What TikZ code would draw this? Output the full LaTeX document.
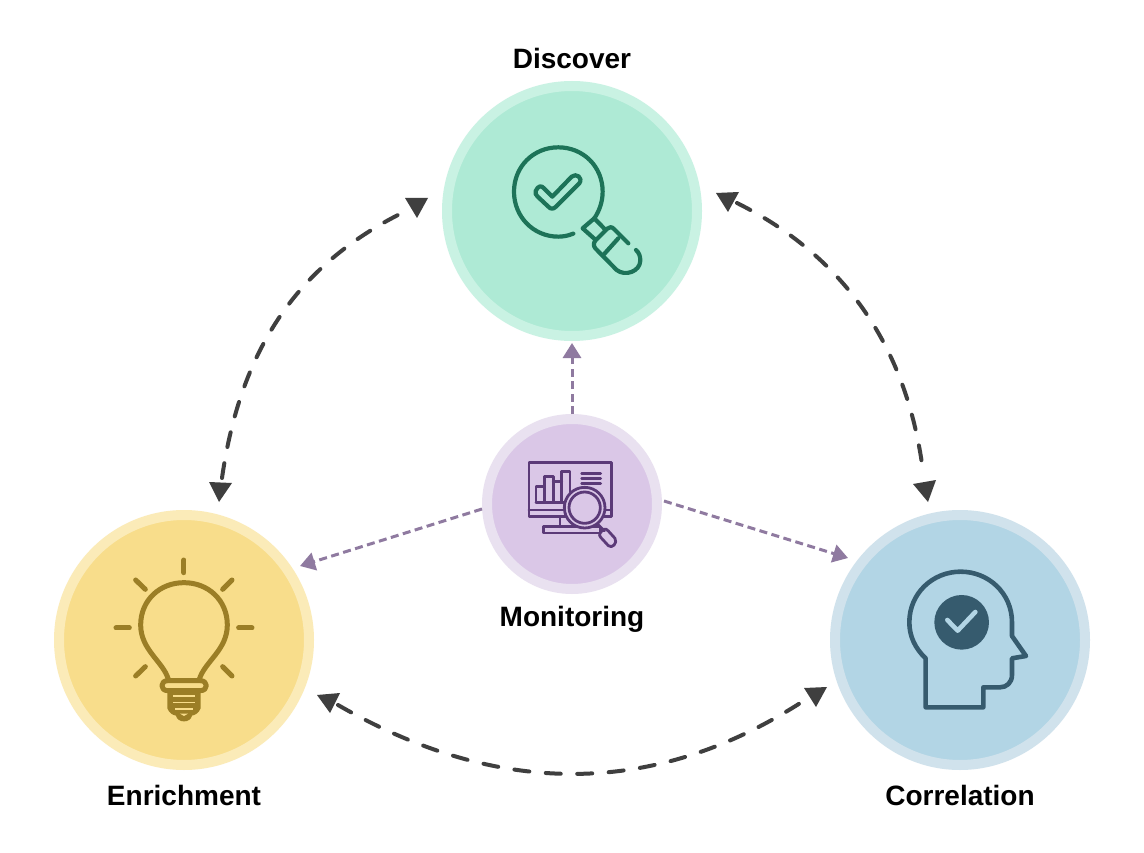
\documentclass[tikz,border=0pt]{standalone}
\usepackage{fontspec}
\setmainfont{Liberation Sans}
\usetikzlibrary{arrows.meta}
\definecolor{dO}{HTML}{C9F2E3}\definecolor{dI}{HTML}{AEEAD5}\definecolor{dK}{HTML}{1D7358}
\definecolor{mO}{HTML}{E9E1F0}\definecolor{mI}{HTML}{DAC7E7}\definecolor{mK}{HTML}{5B3A78}
\definecolor{eO}{HTML}{FBEBB8}\definecolor{eI}{HTML}{F8DD8B}\definecolor{eK}{HTML}{9B7E26}
\definecolor{cO}{HTML}{D0E2EC}\definecolor{cI}{HTML}{B2D5E5}\definecolor{cK}{HTML}{365B6E}
\definecolor{darkarrow}{HTML}{3F3F3F}\definecolor{purplearrow}{HTML}{8F7AA0}
\tikzset{
 bigdisc/.style n args={2}{circle,fill=#2,draw=#1,line width=10pt,minimum size=250pt,inner sep=0pt,outer sep=0pt},
 smalldisc/.style n args={2}{circle,fill=#2,draw=#1,line width=10pt,minimum size=170pt,inner sep=0pt,outer sep=0pt},
 caption/.style={font=\fontsize{28}{32}\selectfont\bfseries,text=black,inner sep=0pt,anchor=base},
 cycleflow/.style={draw=darkarrow,line width=4pt,line cap=round,dash pattern=on 15pt off 16.5pt},
 headfill/.style={fill=darkarrow},
 monitorflow/.style={draw=purplearrow,line width=3pt,dash pattern=on 8pt off 4.5pt,
   -{Triangle[length=15pt,width=18pt,fill=purplearrow]}},
 iconline/.style={line width=#1,line cap=round,line join=round},
 zoomed/.style={shift={(#1)},x=0.3333pt,y=-0.3333pt},
}
\begin{document}
\begin{tikzpicture}[x=1pt,y=-1pt]
\useasboundingbox (0,0) rectangle (1144,853);
\fill[white] (0,0) rectangle (1144,853);
\node[bigdisc={dO}{dI}] (discover) at (572,211) {};
\node[smalldisc={mO}{mI}] (monitoring) at (572,504) {};
\node[bigdisc={eO}{eI}] (enrichment) at (184,640) {};
\node[bigdisc={cO}{cI}] (correlation) at (960,640) {};
\node[caption] (tdiscover) at (572,69) {Discover};
\node[caption] (tmonitoring) at (572,626) {Monitoring};
\node[caption] (tenrichment) at (184,805) {Enrichment};
\node[caption] (tcorrelation) at (960,805) {Correlation};
% connector ends
\coordinate (eTop) at (222,478);\coordinate (dLeft) at (408,210);
\coordinate (dRight) at (737,203);\coordinate (cTop) at (923.5,475);
\coordinate (eRight) at (338,705);\coordinate (cLeft) at (808,698);
\coordinate (mTop) at (572,414);\coordinate (dBot) at (572,343);
\coordinate (mLeft) at (482,509);\coordinate (eGap) at (300,566);
\coordinate (mRight) at (664,501);\coordinate (cGap) at (848,558);
\draw[cycleflow] (eTop) .. controls (241,346) and (300,262) .. (dLeft);
\draw[cycleflow] (dRight) .. controls (845,257) and (908,348) .. (cTop);
\draw[cycleflow] (eRight) .. controls (501,799) and (658,797) .. (cLeft);
\fill[headfill] (405,198) -- (428,198) -- (417,218) -- cycle;
\fill[headfill] (209,482) -- (232,483) -- (219,502) -- cycle;
\fill[headfill] (716,193) -- (739,192) -- (728,212) -- cycle;
\fill[headfill] (913,484) -- (936,480) -- (928,502) -- cycle;
\fill[headfill] (317,695) -- (340,693) -- (330,713) -- cycle;
\fill[headfill] (804,688) -- (827,687) -- (816,707) -- cycle;
\draw[monitorflow] (mTop) -- (dBot);
\draw[monitorflow] (mLeft) -- (eGap);
\draw[monitorflow] (mRight) -- (cGap);
% Discover icon
\begin{scope}[zoomed={490,130},draw=dK,iconline=4.2pt]
 \draw (250,311) .. controls (232,318) and (218,320) .. (205,320)
   .. controls (130,320) and (72,260) .. (72,185)
   .. controls (72,110) and (130,52) .. (205,52)
   .. controls (280,52) and (338,110) .. (338,185)
   .. controls (338,215) and (328,243) .. (313,265);
 \draw (313,265) -- (278,295) -- (315,328);
 \draw (313,265) -- (345,298);
 \draw (415,340) -- (372,297) .. controls (365,290) and (358,290) .. (352,296) -- (316,332)
   .. controls (310,340) and (310,347) .. (316,355) -- (380,420)
   .. controls (405,440) and (450,425) .. (451,392) .. controls (451,378) and (447,368) .. (438,360);
 \draw (340,375) -- (385,325);
 \draw (137,183) .. controls (145,165) and (155,167) .. (162,175) -- (187,200) -- (245,140)
   .. controls (258,128) and (280,143) .. (268,160) -- (198,230) .. controls (190,238) and (182,238) .. (175,230) -- (143,200) .. controls (137,194) and (135,190) .. (137,183) -- cycle;
\end{scope}
% Monitoring icon
\begin{scope}[zoomed={510,450},draw=mK,iconline=2.8pt]
 \draw (57,38) rectangle (305,200);
 \draw (57,180) -- (305,180);
 \draw (150,200) -- (150,230);
 \draw (100,230) rectangle (270,249);
 \draw (78,157) -- (78,110) -- (103,110) -- (103,157);
 \draw (103,110) -- (103,80) -- (130,80) -- (130,157);
 \draw (130,95) -- (155,95);
 \draw (155,157) -- (155,65) -- (180,65) -- (180,125);
 \draw (78,157) -- (170,157);
 \draw (215,70) -- (272,70) (215,85) -- (272,85) (215,101) -- (272,101);
 \fill[mI] (224,173) circle[radius=61];
 \draw (224,173) circle[radius=61];
 \draw (224,173) circle[radius=47];
 \draw (262,222) -- (283,243);
 \draw (270,250) .. controls (278,238) and (286,232) .. (295,243) -- (315,265)
   .. controls (324,280) and (305,297) .. (295,287) -- (272,262) .. controls (268,258) and (268,254) .. (270,250) -- cycle;
\end{scope}
% Enrichment icon
\begin{scope}[zoomed={100,550},draw=eK,iconline=5pt]
 \draw (252,30) -- (252,68);
 \draw (107,90) -- (136,118);
 \draw (396,90) -- (368,118);
 \draw (48,234) -- (88,234);
 \draw (416,234) -- (456,234);
 \draw (107,378) -- (136,350);
 \draw (396,378) -- (368,350);
 \draw (205,388) .. controls (190,335) and (122,300) .. (122,225)
   .. controls (122,150) and (180,98) .. (252,98)
   .. controls (324,98) and (382,150) .. (382,225)
   .. controls (382,300) and (314,335) .. (298,388);
 \draw (203,392) -- (301,392) .. controls (325,392) and (325,422) .. (301,422) -- (203,422) .. controls (180,422) and (180,392) .. (203,392) -- cycle;
 \fill[eK] (202,425) -- (302,425) -- (302,475) .. controls (296,490) and (285,495) .. (276,497)
   .. controls (272,520) and (232,520) .. (228,497) .. controls (218,495) and (208,490) .. (202,475) -- cycle;
 \fill[eI] (220,436) rectangle (284,442);
 \fill[eI] (220,455) rectangle (284,460);
 \fill[eI] (224,474) rectangle (280,479);
 \fill[eI] (240,491) -- (264,491) -- (252,498) -- cycle;
\end{scope}
% Correlation icon
\begin{scope}[zoomed={890,560},draw=cK,iconline=4.6pt]
 \draw (107,295) .. controls (75,265) and (58,228) .. (58,187)
   .. controls (58,100) and (128,35) .. (212,35)
   .. controls (296,35) and (366,100) .. (366,187)
   -- (366,228) -- (408,288) -- (366,295) -- (366,345)
   .. controls (366,368) and (350,382) .. (330,382)
   -- (280,382) -- (280,442) -- (107,442) -- cycle;
 \fill[cK] (215,187) circle[radius=82];
 \draw[cI] (172,180) -- (203,212) -- (256,156);
\end{scope}
\end{tikzpicture}
\end{document}
